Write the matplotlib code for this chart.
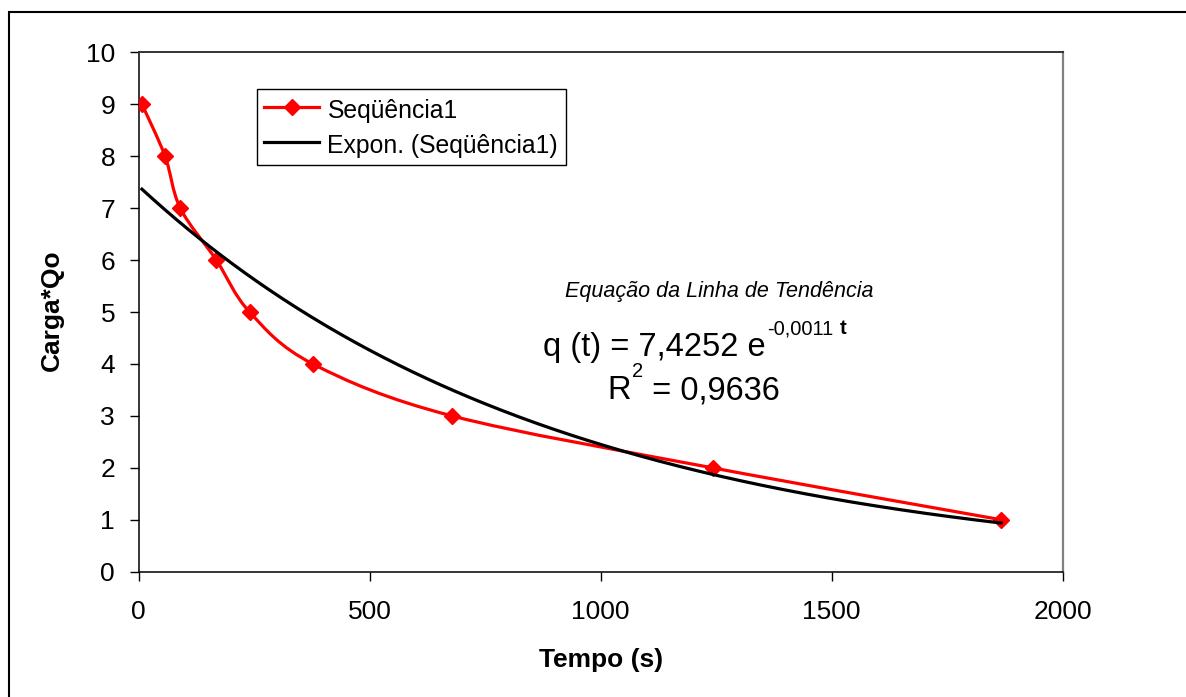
import numpy as np
import matplotlib
matplotlib.use("Agg")
import matplotlib.pyplot as plt
from matplotlib.path import Path
from matplotlib.patches import PathPatch, Rectangle
from matplotlib.lines import Line2D

# ---- data ----
tempo = [7, 57, 90, 168, 240, 377, 678, 1242, 1867]
carga = [9, 8, 7, 6, 5, 4, 3, 2, 1]
x_ticks = [0, 500, 1000, 1500, 2000]
y_ticks = [0, 1, 2, 3, 4, 5, 6, 7, 8, 9, 10]
serie_label = "Seqüência1"
trend_label = "Expon. (Seqüência1)"
eq_title = "Equação da Linha de Tendência"

plt.rcParams['font.family'] = ['Liberation Sans', 'DejaVu Sans']

W, H = 1186, 697
fig = plt.figure(figsize=(W / 100, H / 100), dpi=100)
fig.patch.set_facecolor('white')

# outer chart frame
fig.patches.append(Rectangle((9 / W, -0.2), 1.5, 1.2 - 12 / H,
                             transform=fig.transFigure, fill=False,
                             edgecolor='black', linewidth=1.5, clip_on=False))

L, R, T, B = 138.7, 1062.7, 52.3, 571.7
ax = fig.add_axes([L / W, 1 - B / H, (R - L) / W, (B - T) / H])
ax.set_xlim(0, 2000)
ax.set_ylim(0, 10)
ax.set_xticks(x_ticks)
ax.set_yticks(y_ticks)
ax.tick_params(axis='both', direction='out', length=6.5, width=1, labelsize=19, colors='black')
ax.tick_params(axis='x', pad=14)
ax.tick_params(axis='y', pad=10.5)
for s in ['left', 'bottom']:
    ax.spines[s].set_color('black')
    ax.spines[s].set_linewidth(1.1)
ax.spines['top'].set_color('#333333')
ax.spines['top'].set_linewidth(1.4)
ax.spines['right'].set_color('#808080')
ax.spines['right'].set_linewidth(1.6)

# smoothed red series (Bezier through the points, Catmull-Rom tangents)
pts = np.column_stack([tempo, carga]).astype(float)
n = len(pts)
verts = [pts[0]]
codes = [Path.MOVETO]
for i in range(n - 1):
    p0 = pts[i - 1] if i > 0 else pts[i]
    p1 = pts[i]
    p2 = pts[i + 1]
    p3 = pts[i + 2] if i + 2 < n else pts[i + 1]
    verts += [p1 + (p2 - p0) / 6.0, p2 - (p3 - p1) / 6.0, p2]
    codes += [Path.CURVE4] * 3
ax.add_patch(PathPatch(Path(verts, codes), facecolor='none', edgecolor='#ff0000',
                       linewidth=2.3, zorder=3))
ax.plot(tempo, carga, linestyle='none', marker='D', markersize=8,
        markerfacecolor='#ff0000', markeredgecolor='#ff0000', markeredgewidth=1, zorder=4)

# exponential trendline fitted to the data
b, lna = np.polyfit(tempo, np.log(carga), 1)
a = np.exp(lna)
tt = np.linspace(min(tempo), max(tempo), 300)
ax.plot(tt, a * np.exp(b * tt), color='black', linewidth=2.3, zorder=5)

# legend
h1 = Line2D([], [], color='#ff0000', linewidth=2.3, marker='D', markersize=8,
            markerfacecolor='#ff0000', markeredgecolor='#ff0000')
h2 = Line2D([], [], color='black', linewidth=2.3)
leg = fig.legend([h1, h2], [serie_label, trend_label], loc='upper left',
                 bbox_to_anchor=(257 / W, 1 - 89 / H), fontsize=17.8,
                 frameon=True, fancybox=False, shadow=False, framealpha=1,
                 edgecolor='black', borderpad=0.3, handlelength=2.2,
                 handleheight=1.3, handletextpad=0.35, labelspacing=0.3,
                 numpoints=1, borderaxespad=0)
leg.get_frame().set_linewidth(1.0)

# axis labels
fig.text(600.7 / W, 1 - 660 / H, "Tempo (s)", fontsize=19, fontweight='bold',
         ha='center', va='center')
fig.text(52 / W, 1 - 310 / H, "Carga*Qo", fontsize=19, fontweight='bold',
         ha='center', va='center', rotation=90)

# trendline equation
EQ, SUP, RAISE = 23.5, 14.5, 22
ax.text(922, 5.29, eq_title, fontsize=15.5, style='italic', va='baseline', ha='left')
x0, y0 = 875, 4.15
t1 = ax.text(x0, y0, "q (t) = 7,4252 e", fontsize=EQ, va='baseline', ha='left')
fig.canvas.draw()
r = fig.canvas.get_renderer()
w1 = t1.get_window_extent(r).width
t2 = ax.annotate("-0,0011", xy=(x0, y0), xycoords='data', xytext=(w1 + 2, RAISE),
                 textcoords='offset pixels', fontsize=SUP, va='baseline', ha='left')
fig.canvas.draw()
w2 = t2.get_window_extent(r).width
ax.annotate("t", xy=(x0, y0), xycoords='data', xytext=(w1 + 2 + w2 + 6, RAISE),
            textcoords='offset pixels', fontsize=SUP, fontweight='bold',
            va='baseline', ha='left')

x1, y1 = 1015, 3.32
t3 = ax.text(x1, y1, "R", fontsize=EQ, va='baseline', ha='left')
fig.canvas.draw()
w3 = t3.get_window_extent(r).width
t4 = ax.annotate("2", xy=(x1, y1), xycoords='data', xytext=(w3 + 1, RAISE),
                 textcoords='offset pixels', fontsize=SUP, va='baseline', ha='left')
fig.canvas.draw()
w4 = t4.get_window_extent(r).width
ax.annotate(" = 0,9636", xy=(x1, y1), xycoords='data', xytext=(w3 + 1 + w4, 0),
            textcoords='offset pixels', fontsize=EQ, va='baseline', ha='left')

fig.savefig("out.png", dpi=100, facecolor='white')
